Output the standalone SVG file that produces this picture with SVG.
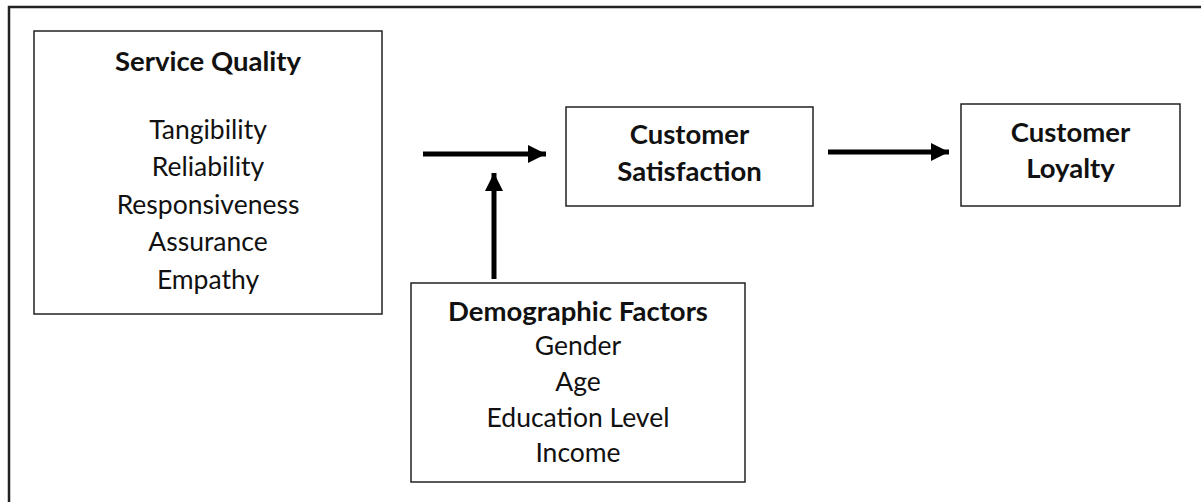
<svg xmlns="http://www.w3.org/2000/svg" width="1201" height="502" viewBox="0 0 1201 502">
  <style>
    .box { fill: #ffffff; stroke: #222222; stroke-width: 1.5; }
    .frame { fill: none; stroke: #222222; stroke-width: 2.5; }
    .txt { font-family: "Lato", "Liberation Sans", sans-serif; font-size: 26.5px; fill: #111111; text-anchor: middle; }
    .bold { font-weight: bold; font-size: 27.5px; }
    .conn { stroke: #000000; stroke-width: 5; fill: none; }
  </style>
  <defs>
    <marker id="head" markerUnits="userSpaceOnUse" markerWidth="20" markerHeight="20" viewBox="0 0 20 20" refX="18" refY="10" orient="auto">
      <path d="M0,1 L18,10 L0,19 Z" fill="#000000"/>
    </marker>
  </defs>

  <rect class="frame" x="9" y="7" width="1200" height="500"/>

  <g id="service-quality">
    <rect class="box" x="34" y="31" width="348" height="283"/>
    <text class="txt bold" x="208" y="71">Service Quality</text>
    <text class="txt" x="208" y="139">Tangibility</text>
    <text class="txt" x="208" y="176">Reliability</text>
    <text class="txt" x="208" y="214">Responsiveness</text>
    <text class="txt" x="208" y="251">Assurance</text>
    <text class="txt" x="208" y="289">Empathy</text>
  </g>

  <g id="customer-satisfaction">
    <rect class="box" x="566" y="107" width="247" height="99"/>
    <text class="txt bold" x="689.5" y="144">Customer</text>
    <text class="txt bold" x="689.5" y="181">Satisfaction</text>
  </g>

  <g id="customer-loyalty">
    <rect class="box" x="961" y="104" width="219" height="102"/>
    <text class="txt bold" x="1070.5" y="142">Customer</text>
    <text class="txt bold" x="1070.5" y="178">Loyalty</text>
  </g>

  <g id="demographic-factors">
    <rect class="box" x="411" y="283" width="334" height="199"/>
    <text class="txt bold" x="578" y="321">Demographic Factors</text>
    <text class="txt" x="578" y="355">Gender</text>
    <text class="txt" x="578" y="391">Age</text>
    <text class="txt" x="578" y="427">Education Level</text>
    <text class="txt" x="578" y="462">Income</text>
  </g>

  <g id="connectors">
    <line class="conn" x1="423" y1="154" x2="546" y2="154" marker-end="url(#head)"/>
    <line class="conn" x1="494" y1="279" x2="494" y2="173" marker-end="url(#head)"/>
    <line class="conn" x1="828" y1="152" x2="949" y2="152" marker-end="url(#head)"/>
  </g>
</svg>
